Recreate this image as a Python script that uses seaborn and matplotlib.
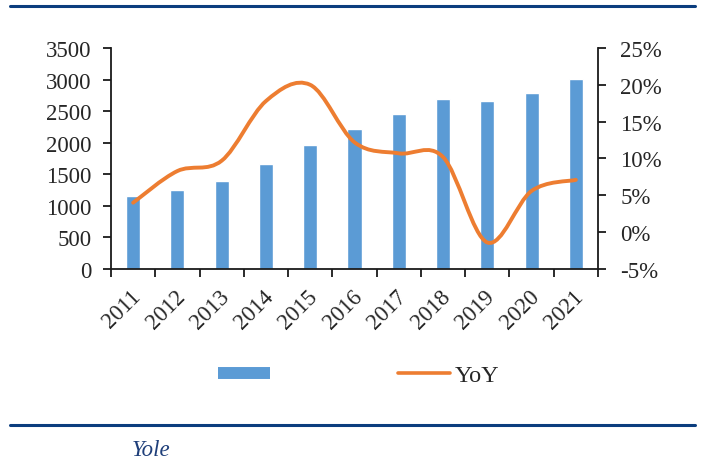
import matplotlib
matplotlib.use("Agg")
import matplotlib.pyplot as plt
import matplotlib.transforms as mtransforms
import pandas as pd
import seaborn as sns
from matplotlib.lines import Line2D
from matplotlib.path import Path
from matplotlib.patches import PathPatch
from matplotlib.ticker import FixedLocator, FuncFormatter

# 数据
years = ["2011", "2012", "2013", "2014", "2015", "2016",
         "2017", "2018", "2019", "2020", "2021"]
market = [1150, 1255, 1400, 1660, 1965, 2215, 2450, 2690, 2655, 2790, 3005]
yoy = [4.0, 8.3, 9.7, 17.8, 20.0, 12.2, 10.7, 10.2, -1.4, 5.6, 7.1]
bar_label = ""
line_label = "YoY"
source = "Yole"

BAR_C = "#5B9BD5"
LINE_C = "#ED7D31"
NAVY = "#0B3D7E"
AX_C = "#1a1a1a"

sns.set_theme(style="white")
plt.rcParams["font.family"] = ["Liberation Serif", "DejaVu Serif"]
FS = 16.5

df = pd.DataFrame({"year": years, "market": market, "yoy": yoy})

fig = plt.figure(figsize=(7.03, 4.64), dpi=100)
ax = fig.add_axes([111 / 703, 1 - 270 / 464, 487 / 703, 221 / 464])

sns.barplot(data=df, x="year", y="market", color=BAR_C, width=0.32,
            saturation=1, ax=ax)
ax.set_xlim(-0.5, len(years) - 0.5)
ax.set_ylim(0, 3500)
ax.set_yticks(range(0, 3501, 500))
ax.set_xlabel("")
ax.set_ylabel("")

# 类别边界刻度（Excel 风格）
ax.xaxis.set_minor_locator(FixedLocator([i - 0.5 for i in range(len(years) + 1)]))
ax.tick_params(axis="x", which="major", length=0, pad=12)
ax.tick_params(axis="x", which="minor", length=6, width=1.3, color=AX_C,
               direction="out", bottom=True)
ax.tick_params(axis="y", length=6, width=1.3, color=AX_C, direction="out",
               left=True, pad=8)
shift = mtransforms.ScaledTranslation(-3 / 100, 0, fig.dpi_scale_trans)
for lab in ax.get_xticklabels():
    lab.set_rotation(45)
    lab.set_ha("right")
    lab.set_va("top")
    lab.set_rotation_mode("anchor")
    lab.set_fontsize(FS)
    lab.set_transform(lab.get_transform() + shift)
for lab in ax.get_yticklabels():
    lab.set_fontsize(FS)

for s in ["top", "right"]:
    ax.spines[s].set_visible(False)
for s in ["left", "bottom"]:
    ax.spines[s].set_color(AX_C)
    ax.spines[s].set_linewidth(1.3)

# 右轴 YoY
ax2 = ax.twinx()
ax2.set_ylim(-5, 25)
ax2.set_yticks(range(-5, 26, 5))
ax2.yaxis.set_major_formatter(FuncFormatter(lambda v, p: f"{v:.0f}%"))
ax2.tick_params(axis="y", length=6, width=1.3, color=AX_C, direction="out",
                right=True, pad=10, labelsize=FS)
for s in ["top", "left", "bottom"]:
    ax2.spines[s].set_visible(False)
ax2.spines["right"].set_color(AX_C)
ax2.spines["right"].set_linewidth(1.3)
ax2.grid(False)
ax.grid(False)


# 平滑曲线（Excel 平滑线：Catmull-Rom -> 三次贝塞尔）
def smooth_path(xs, ys):
    n = len(xs)
    verts = [(xs[0], ys[0])]
    codes = [Path.MOVETO]
    for i in range(n - 1):
        x0, y0 = (xs[i - 1], ys[i - 1]) if i > 0 else (xs[i], ys[i])
        x1, y1 = xs[i], ys[i]
        x2, y2 = xs[i + 1], ys[i + 1]
        x3, y3 = (xs[i + 2], ys[i + 2]) if i + 2 < n else (x2, y2)
        c1 = (x1 + (x2 - x0) / 6, y1 + (y2 - y0) / 6)
        c2 = (x2 - (x3 - x1) / 6, y2 - (y3 - y1) / 6)
        verts += [c1, c2, (x2, y2)]
        codes += [Path.CURVE4] * 3
    return Path(verts, codes)


xpos = list(range(len(years)))
ax2.add_patch(PathPatch(smooth_path(xpos, df["yoy"].tolist()), facecolor="none",
                        edgecolor=LINE_C, lw=2.8, capstyle="round",
                        joinstyle="round"))

# 图例
handles = [Line2D([], [], color=BAR_C, lw=8.6, solid_capstyle="butt"),
           Line2D([], [], color=LINE_C, lw=2.6, solid_capstyle="round")]
fig.legend(handles, [bar_label, line_label], loc="center",
           bbox_to_anchor=(359 / 703, 1 - 376 / 464), ncol=2, frameon=False,
           fontsize=FS + 1, handlelength=2.15, handletextpad=0.2,
           columnspacing=5.05)

# 上下装饰线和来源
fig.add_artist(Line2D([10 / 703, 695 / 703], [1 - 7.3 / 464] * 2,
                      transform=fig.transFigure, color=NAVY, lw=2.2))
fig.add_artist(Line2D([10 / 703, 695 / 703], [1 - 426 / 464] * 2,
                      transform=fig.transFigure, color=NAVY, lw=2.2))
fig.text(132 / 703, 1 - 456 / 464, source, fontsize=FS, style="italic",
         color="#1F3F7A", ha="left", va="baseline")

fig.savefig("out.png", dpi=100)
